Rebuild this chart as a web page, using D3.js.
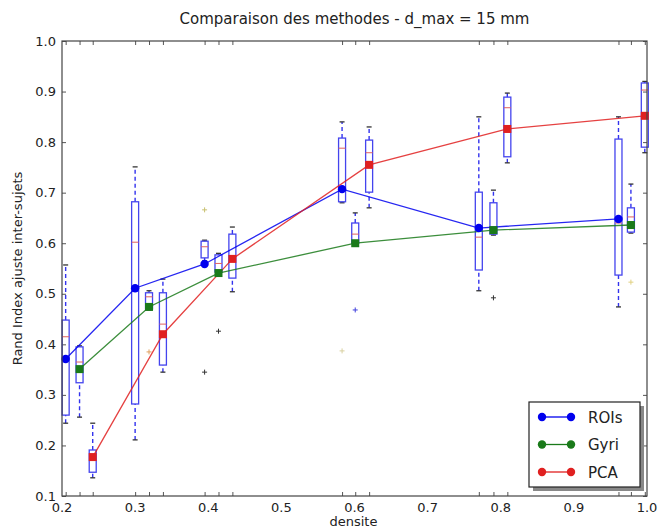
<!DOCTYPE html>
<html><head><meta charset="utf-8">
<script src="https://cdn.jsdelivr.net/npm/d3@7"></script>
<style>body{margin:0;background:#fff}svg{display:block}text{font-family:"DejaVu Sans",sans-serif;fill:#222}</style>
</head><body><svg id="c" width="658" height="528"></svg>
<script>
// ---- data ----
const seriesNames = ["ROIs", "Gyri", "PCA"];
const seriesColors = ["#0000ee", "#1a7a1a", "#e02020"];
const xTickLabels = [0.2, 0.3, 0.4, 0.5, 0.6, 0.7, 0.8, 0.9, 1.0];
const yTickLabels = [0.1, 0.2, 0.3, 0.4, 0.5, 0.6, 0.7, 0.8, 0.9, 1.0];

const roisX = [0.205, 0.300, 0.395, 0.583, 0.770, 0.961];
const gyriX = [0.224, 0.319, 0.414, 0.601, 0.790, 0.978];
const pcaX  = [0.242, 0.338, 0.433, 0.620, 0.809, 0.997];

// [whiskerLow, q1, median, q3, whiskerHigh]
const roisBox = [
  [0.244, 0.260, 0.415, 0.448, 0.557],
  [0.211, 0.282, 0.602, 0.682, 0.751],
  [0.565, 0.571, 0.593, 0.604, 0.606],
  [0.680, 0.682, 0.788, 0.808, 0.840],
  [0.506, 0.547, 0.612, 0.701, 0.850],
  [0.474, 0.537, 0.640, 0.806, 0.850]
];
const gyriBox = [
  [0.256, 0.324, 0.365, 0.395, 0.397],
  [0.468, 0.470, 0.494, 0.502, 0.506],
  [0.541, 0.543, 0.560, 0.577, 0.580],
  [0.598, 0.600, 0.618, 0.640, 0.660],
  [0.616, 0.618, 0.630, 0.680, 0.705],
  [0.620, 0.622, 0.652, 0.670, 0.717]
];
const pcaBox = [
  [0.136, 0.147, 0.180, 0.191, 0.244],
  [0.345, 0.359, 0.440, 0.502, 0.529],
  [0.504, 0.531, 0.575, 0.618, 0.632],
  [0.670, 0.701, 0.779, 0.804, 0.830],
  [0.759, 0.771, 0.868, 0.889, 0.897],
  [0.779, 0.790, 0.903, 0.917, 0.920]
];
const roisMean = [0.371, 0.511, 0.559, 0.707, 0.630, 0.648];
const gyriMean = [0.351, 0.474, 0.541, 0.600, 0.626, 0.636];
const pcaMean  = [0.177, 0.420, 0.569, 0.755, 0.826, 0.852];

// fliers: [series index, group index, value]
const fliers = [
  [0, 2, 0.666], [0, 2, 0.345], [0, 3, 0.387],
  [1, 1, 0.385], [1, 2, 0.426], [1, 3, 0.468], [1, 4, 0.492], [1, 5, 0.523]
];
const flierColors = ["#c8c070", "#333333", "#d8d0a0", "#e0a060", "#333333", "#4040dd", "#333333", "#e0d080"];

// ---- drawing ----
const svg = d3.select("#c");
const L = 62, R = 647, T = 41, B = 496;
const x = d3.scaleLinear().domain([0.2, 1.0]).range([L, R]);
const y = d3.scaleLinear().domain([0.1, 1.0]).range([B, T]);

const allX = [roisX, gyriX, pcaX];
const allBox = [roisBox, gyriBox, pcaBox];
const allMean = [roisMean, gyriMean, pcaMean];

// ticks (inward) at box positions top & bottom
const tickPos = allX.flat();
const xAxisB = d3.axisBottom(x).tickValues(tickPos).tickSize(-4).tickFormat("");
const xAxisT = d3.axisTop(x).tickValues(tickPos).tickSize(-4).tickFormat("");
const yAxisL = d3.axisLeft(y).tickValues(yTickLabels).tickSize(-4).tickFormat("");
const yAxisR = d3.axisRight(y).tickValues(yTickLabels).tickSize(-4).tickFormat("");
function styleAx(g){ g.selectAll("path").remove(); g.selectAll("line").attr("stroke","#555"); }
svg.append("g").attr("transform",`translate(0,${B})`).call(xAxisB).call(styleAx);
svg.append("g").attr("transform",`translate(0,${T})`).call(xAxisT).call(styleAx);
svg.append("g").attr("transform",`translate(${L},0)`).call(yAxisL).call(styleAx);
svg.append("g").attr("transform",`translate(${R},0)`).call(yAxisR).call(styleAx);

// tick labels
svg.append("g").selectAll("text").data(xTickLabels).join("text")
  .attr("x", d => x(d)).attr("y", B + 16).attr("text-anchor","middle")
  .attr("font-size", 13).text(d => d.toFixed(1));
svg.append("g").selectAll("text").data(yTickLabels).join("text")
  .attr("x", L - 6).attr("y", d => y(d) + 4.5).attr("text-anchor","end")
  .attr("font-size", 13).text(d => d.toFixed(1));

// boxes
const bw = 7;
allBox.forEach((boxes, s) => {
  const g = svg.append("g");
  boxes.forEach((b, i) => {
    const cx = x(allX[s][i]);
    // whiskers
    g.append("line").attr("x1",cx).attr("x2",cx).attr("y1",y(b[0])).attr("y2",y(b[1]))
      .attr("stroke","#3333ee").attr("stroke-width",1.4).attr("stroke-dasharray","4,3");
    g.append("line").attr("x1",cx).attr("x2",cx).attr("y1",y(b[3])).attr("y2",y(b[4]))
      .attr("stroke","#3333ee").attr("stroke-width",1.4).attr("stroke-dasharray","4,3");
    // caps
    [b[0], b[4]].forEach(v => g.append("line").attr("x1",cx-2.5).attr("x2",cx+2.5)
      .attr("y1",y(v)).attr("y2",y(v)).attr("stroke","#333").attr("stroke-width",1.3));
    // box
    g.append("rect").attr("x",cx-bw/2).attr("y",y(b[3])).attr("width",bw)
      .attr("height",y(b[1])-y(b[3])).attr("fill","none").attr("stroke","#4444ee").attr("stroke-width",1.3);
    // median
    g.append("line").attr("x1",cx-bw/2).attr("x2",cx+bw/2).attr("y1",y(b[2])).attr("y2",y(b[2]))
      .attr("stroke","#e06060").attr("stroke-width",1);
  });
});

// fliers
fliers.forEach((f, k) => {
  const cx = x(allX[f[0]][f[1]]), cy = y(f[2]);
  const c = flierColors[k];
  svg.append("line").attr("x1",cx-2.5).attr("x2",cx+2.5).attr("y1",cy).attr("y2",cy).attr("stroke",c).attr("stroke-width",1);
  svg.append("line").attr("x1",cx).attr("x2",cx).attr("y1",cy-2.5).attr("y2",cy+2.5).attr("stroke",c).attr("stroke-width",1);
});

// mean lines and markers
const line = d3.line().x(d => x(d[0])).y(d => y(d[1]));
allMean.forEach((m, s) => {
  const pts = m.map((v, i) => [allX[s][i], v]);
  svg.append("path").datum(pts).attr("d", line).attr("fill","none")
    .attr("stroke", seriesColors[s]).attr("stroke-width",1.3).attr("opacity",0.85);
});
allMean.forEach((m, s) => {
  const pts = m.map((v, i) => [allX[s][i], v]);
  const g = svg.append("g");
  if (s === 0) {
    g.selectAll("circle").data(pts).join("circle").attr("cx", d => x(d[0])).attr("cy", d => y(d[1]))
      .attr("r", 4.2).attr("fill", seriesColors[s]);
  } else {
    g.selectAll("rect").data(pts).join("rect").attr("x", d => x(d[0]) - 4).attr("y", d => y(d[1]) - 4)
      .attr("width", 8).attr("height", 8).attr("fill", seriesColors[s]);
  }
});

// frame
svg.append("rect").attr("x",L).attr("y",T).attr("width",R-L).attr("height",B-T)
  .attr("fill","none").attr("stroke","#444").attr("stroke-width",1.2);

// legend
const lg = svg.append("g");
const lx = 529, ly = 402, lw = 111, lh = 85;
lg.append("rect").attr("x",lx+4).attr("y",ly+4).attr("width",lw).attr("height",lh).attr("fill","#888");
lg.append("rect").attr("x",lx).attr("y",ly).attr("width",lw).attr("height",lh).attr("fill","#fff")
  .attr("stroke","#222").attr("stroke-width",1.2);
seriesNames.forEach((n, i) => {
  const yy = ly + 15 + i * 27.5;
  lg.append("line").attr("x1",lx+13).attr("x2",lx+42).attr("y1",yy).attr("y2",yy)
    .attr("stroke",seriesColors[i]).attr("stroke-width",1.3);
  [lx+13, lx+42].forEach(cx => lg.append("circle").attr("cx",cx).attr("cy",yy).attr("r",4.2).attr("fill",seriesColors[i]));
  lg.append("text").attr("x",lx+59).attr("y",yy+5.5).attr("font-size",15).text(n);
});

// titles
svg.append("text").attr("x",(L+R)/2).attr("y",24).attr("text-anchor","middle").attr("font-size",15)
  .text("Comparaison des methodes - d_max = 15 mm");
svg.append("text").attr("x",(L+R)/2 - 1).attr("y",B + 30).attr("text-anchor","middle").attr("font-size",13)
  .text("densite");
svg.append("text").attr("transform",`translate(22,${(T+B)/2}) rotate(-90)`).attr("text-anchor","middle")
  .attr("font-size",13).text("Rand Index ajuste inter-sujets");
</script></body></html>
